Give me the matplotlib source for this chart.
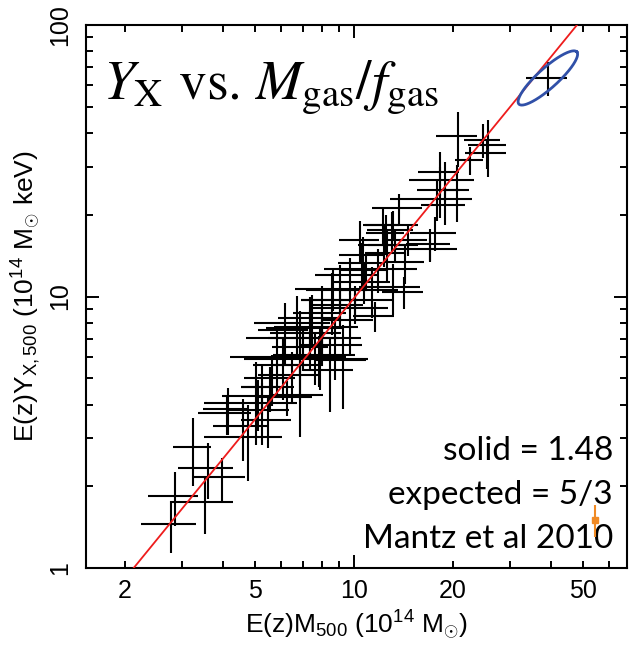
import numpy as np
import matplotlib
matplotlib.use('Agg')
import matplotlib.pyplot as plt
from matplotlib.ticker import FixedLocator, FuncFormatter, NullFormatter

plt.rcParams['font.family'] = ['Liberation Sans', 'DejaVu Sans']
plt.rcParams['mathtext.fontset'] = 'custom'
plt.rcParams['mathtext.rm'] = 'Liberation Sans'
plt.rcParams['mathtext.it'] = 'Liberation Sans:italic'

# E(z) M500 (1e14 Msun) and its error
mass = [2.77, 2.85, 3.23, 3.59, 3.51, 3.96, 4.13, 4.59, 4.75, 5.24,
        5.55, 5.82, 5.03, 4.10, 5.10, 6.25, 5.24, 5.62, 6.07, 6.16,
        7.34, 7.34, 7.99, 9.26, 7.61, 6.84, 6.70, 7.99, 7.99, 6.99,
        7.88, 7.82, 8.45, 6.84, 8.63, 10.07, 10.07, 9.72, 10.73, 10.58,
        10.88, 10.65, 12.60, 12.52, 12.26, 13.34, 14.21, 11.59, 9.06, 8.57,
        17.04, 17.66, 13.06, 12.35, 17.04, 18.94, 17.91, 18.29, 20.61, 18.94,
        18.29, 22.58, 20.76, 25.61, 25.44, 24.74, 13.72, 11.84, 13.15, 14.61,
        13.15, 6.47, 8.75, 9.72, 9.06, 7.45, 6.84, 11.35, 14.31, 5.47,
        10.43, 39.0]
mass_err = [.52, .50, .43, .68, .77, .70, .67, .87, 1.27, 1.10,
            1.01, 1.64, 1.06, .75, 1.61, 1.18, .70, .99, 1.15, 1.08,
            1.80, 1.96, 1.46, 1.63, 1.87, 2.16, 1.74, 2.30, 2.52, 1.37,
            2.21, 3.19, 1.48, 1.20, 2.00, 3.18, 2.62, 2.12, 2.18, 1.63,
            1.83, 1.65, 1.77, 1.67, 1.46, 2.34, 2.00, 1.63, 1.91, 1.68,
            2.63, 2.85, 2.11, 2.08, 3.59, 2.93, 5.03, 2.70, 1.74, 4.26,
            2.57, 2.22, 2.92, 3.42, 3.57, 3.13, 2.41, 3.74, 2.77, 2.05,
            2.49, 1.36, 1.84, 1.71, 1.59, 1.57, 1.20, 2.23, 2.01, .96,
            1.46, 5.48]
# E(z) Yx,500 (1e14 Msun keV) and its error
yx = [1.45, 1.84, 2.79, 2.34, 1.75, 2.16, 3.85, 3.33, 3.04, 3.82,
      4.64, 5.99, 4.30, 3.72, 4.05, 4.26, 4.64, 5.01, 5.59, 7.53,
      7.34, 7.66, 8.70, 5.84, 5.99, 7.03, 7.99, 7.72, 7.03, 6.52,
      6.09, 5.89, 5.36, 5.59, 10.66, 9.71, 9.07, 12.00, 11.31, 13.29,
      12.52, 14.22, 14.46, 17.13, 18.34, 15.48, 10.38, 8.48, 10.57, 9.71,
      15.61, 17.13, 17.58, 15.48, 14.96, 21.73, 22.86, 24.68, 24.68, 26.86,
      28.74, 31.83, 39.01, 36.14, 33.77, 37.70, 21.18, 12.63, 10.84, 16.15,
      18.34, 5.14, 6.63, 8.19, 9.31, 8.33, 4.34, 10.57, 13.40, 3.51,
      16.20, 63.8]
yx_err = [.31, .41, .78, .55, .42, .39, .75, .85, .95, .97,
          .87, 1.63, 1.46, .63, .86, .62, .98, 1.06, 1.42, 1.92,
          1.56, 2.27, 2.21, 1.98, 1.27, 1.79, 2.03, 1.64, 1.49, 1.22,
          1.55, 1.25, 1.59, 1.42, 1.81, 1.24, 1.15, 1.83, 1.92, 2.48,
          1.91, 2.41, 3.07, 2.91, 2.80, 1.97, 1.41, 1.08, 2.51, 2.47,
          2.12, 2.47, 2.98, 2.63, 1.52, 3.32, 3.88, 5.23, 5.86, 4.56,
          5.36, 3.78, 8.93, 8.58, 4.30, 5.44, 2.69, 2.36, 2.30, 2.05,
          2.33, 1.09, 1.69, 2.08, 1.58, 1.77, 1.29, 2.24, 2.27, .74,
          2.75, 9.20]

# fit: y = (x / pivot)^slope
slope = 1.48
pivot = 2.13

# error ellipse (log10 space) around the highlighted cluster
ell_center = (1.591, 1.805)
ell_a = (0.0884, 0.0961)
ell_b = (-0.0204, 0.0274)

# Mantz et al 2010 slope marker
mantz_x = [54.4]
mantz_y = [1.50]
mantz_err = [[0.20], [0.21]]

fig = plt.figure(figsize=(6.29, 6.45), dpi=100)
ax = fig.add_axes([0.1367, 0.1194, 0.8601, 0.8418])

ax.errorbar(mass, yx, xerr=mass_err, yerr=yx_err, fmt='none',
            ecolor='black', elinewidth=1.5, capsize=0, zorder=2)

xs = np.logspace(0, 2, 100)
ax.plot(xs, (xs / pivot) ** slope, color='#ee1c1c', lw=1.3, zorder=3)

t = np.linspace(0, 2 * np.pi, 200)
lx = ell_center[0] + ell_a[0] * np.cos(t) + ell_b[0] * np.sin(t)
ly = ell_center[1] + ell_a[1] * np.cos(t) + ell_b[1] * np.sin(t)
ax.plot(10 ** lx, 10 ** ly, color='#3050a8', lw=2.0, zorder=4)

ax.errorbar(mantz_x, mantz_y, yerr=mantz_err, fmt='s', color='#f08a24',
            ms=5, elinewidth=1.5, capsize=0, zorder=5)

ax.set_xscale('log')
ax.set_yscale('log')
ax.set_xlim(1.524, 67.96)
ax.set_ylim(1, 100)

ax.xaxis.set_major_locator(FixedLocator([10]))
ax.xaxis.set_minor_locator(FixedLocator([2, 3, 4, 5, 6, 7, 8, 9, 20, 30, 40, 50, 60]))
ax.xaxis.set_major_formatter(FuncFormatter(lambda v, p: '%d' % v))
ax.xaxis.set_minor_formatter(FuncFormatter(lambda v, p: '%d' % v if v in (2, 5, 20, 50) else ''))
ax.yaxis.set_major_locator(FixedLocator([1, 10, 100]))
ax.yaxis.set_minor_locator(FixedLocator([2, 3, 4, 5, 6, 7, 8, 9, 20, 30, 40, 50, 60, 70, 80, 90]))
ax.yaxis.set_major_formatter(FuncFormatter(lambda v, p: '%d' % v))
ax.yaxis.set_minor_formatter(NullFormatter())

ax.tick_params(which='both', direction='in', top=True, right=True, width=1.4, labelsize=18)
ax.tick_params(which='major', length=9.5)
ax.tick_params(which='minor', length=5)
ax.tick_params(axis='x', which='both', pad=8)
ax.tick_params(axis='y', which='both', pad=10, labelrotation=90)
for lab in ax.get_yticklabels():
    lab.set_va('center')
for s in ax.spines.values():
    s.set_linewidth(1.5)

ax.set_xlabel(r'E(z)M$_{500}$ (10$^{14}$ M$_{\odot}$)', fontsize=19, labelpad=4)
ax.set_ylabel(r'E(z)Y$_{\rm X,500}$ (10$^{14}$ M$_{\odot}$ keV)', fontsize=19, labelpad=4)

ax.text(0.031, 0.862, r'$Y_{\rm X}$ vs. $M_{\rm gas}/f_{\rm gas}$', transform=ax.transAxes,
        fontsize=40, family='STIXGeneral', math_fontfamily='stix', va='baseline', ha='left')

for txt, yy in [('solid = 1.48', 0.199), ('expected = 5/3', 0.118), ('Mantz et al 2010', 0.0368)]:
    ax.text(0.974, yy, txt, transform=ax.transAxes, fontsize=24, family='Lato',
            ha='right', va='baseline')

fig.savefig('out.png', dpi=100)
